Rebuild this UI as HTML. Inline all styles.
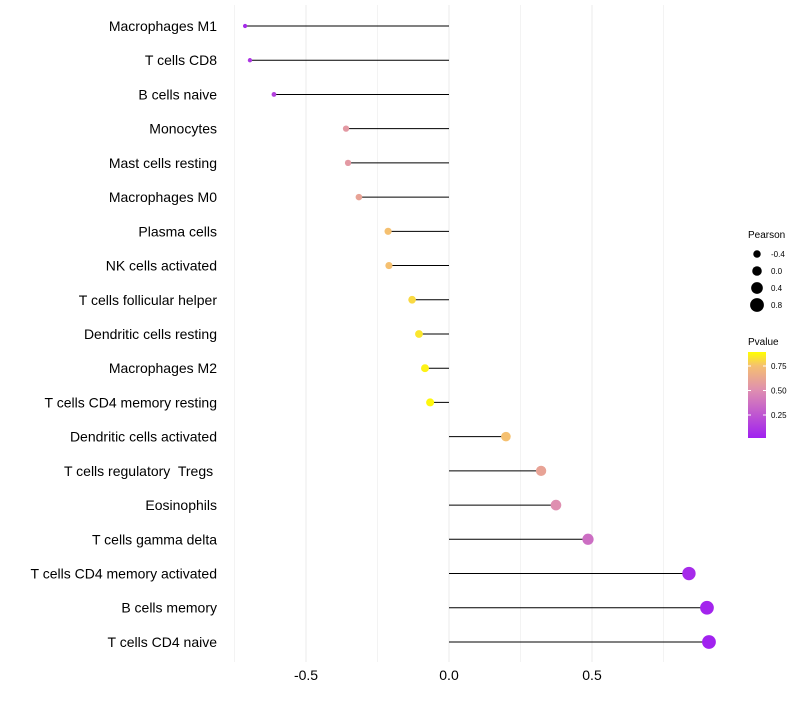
<!DOCTYPE html>
<html><head><meta charset="utf-8"><style>
body{margin:0;background:#fff;font-family:"Liberation Sans",sans-serif}
text{white-space:pre}
</style></head><body>
<svg id="chart" width="800" height="700" xmlns="http://www.w3.org/2000/svg">
<defs><linearGradient id="pg" x1="0" y1="1" x2="0" y2="0">
<stop offset="0" stop-color="#a020f0"/><stop offset="0.56" stop-color="#df8fb0"/><stop offset="0.84" stop-color="#f5c070"/><stop offset="1" stop-color="#ffff00"/></linearGradient></defs>
<g id="grid"></g><g id="marks"></g><g id="labels"></g>
<g font-size="9" fill="#000">
<text x="748" y="238" font-size="10">Pearson</text>
<g id="sizeLegend"></g>
<text x="748" y="345" font-size="10">Pvalue</text>
<rect x="748" y="352" width="18" height="86" fill="url(#pg)"/>
<g id="colorLegend"></g>
</g>
</svg>
<script>
const categories=["Macrophages M1","T cells CD8","B cells naive","Monocytes","Mast cells resting","Macrophages M0","Plasma cells","NK cells activated","T cells follicular helper","Dendritic cells resting","Macrophages M2","T cells CD4 memory resting","Dendritic cells activated","T cells regulatory  Tregs ","Eosinophils","T cells gamma delta","T cells CD4 memory activated","B cells memory","T cells CD4 naive"];
const pearson=[-0.713,-0.696,-0.612,-0.36,-0.353,-0.315,-0.213,-0.21,-0.129,-0.105,-0.084,-0.066,0.199,0.322,0.374,0.486,0.839,0.902,0.909];
const pvalues=[0.05,0.1,0.15,0.55,0.55,0.6,0.75,0.75,0.85,0.9,0.95,0.97,0.75,0.6,0.5,0.35,0.05,0.02,0.01];
const xTicks=[-0.5,0,0.5];
const xTickLabels=["-0.5","0.0","0.5"];
const sizeLegendValues=[-0.4,0.0,0.4,0.8];
const sizeLegendLabels=["-0.4","0.0","0.4","0.8"];
const colorLegendValues=[0.25,0.5,0.75];
const colorLegendLabels=["0.25","0.50","0.75"];
const NS="http://www.w3.org/2000/svg";
const x=v=>449+v*286;
const y=i=>26+i*34.22;
const r=v=>2+(v+0.75)/1.7*5;
function col(p){const stops=[[0,[160,32,240]],[0.5,[223,143,176]],[0.75,[245,192,112]],[1,[255,255,0]]];
for(let k=1;k<stops.length;k++){if(p<=stops[k][0]){const a=stops[k-1],b=stops[k],t=(p-a[0])/(b[0]-a[0]);return "rgb("+a[1].map((c,j)=>Math.round(c+(b[1][j]-c)*t)).join(",")+")";}}return "rgb(255,255,0)";}
function mk(tag,attrs,parent){const e=document.createElementNS(NS,tag);for(const k in attrs)e.setAttribute(k,attrs[k]);parent.appendChild(e);return e;}
const grid=document.getElementById('grid'),marks=document.getElementById('marks'),labels=document.getElementById('labels');
[-0.75,-0.25,0.25,0.75].forEach(v=>{const l=mk('line',{x1:x(v),x2:x(v),y1:5,y2:662,stroke:'#f3f3f3','stroke-width':1},grid);

});
xTicks.forEach((v,i)=>{const l=mk('line',{x1:x(v),x2:x(v),y1:5,y2:662,stroke:'#ebebeb','stroke-width':1},grid);


const t=mk('text',{x:x(v),y:680,'text-anchor':'middle','font-size':14,fill:'#000'},labels);t.textContent=xTickLabels[i];

});
categories.forEach((c,i)=>{const yy=y(i);
const t=mk('text',{x:217,y:yy+5,'text-anchor':'end','font-size':14,fill:'#000'},labels);t.textContent=c;


const l=mk('line',{x1:x(0),x2:x(pearson[i]),y1:yy,y2:yy,stroke:'#000','stroke-width':1},marks);


const p=mk('circle',{cx:x(pearson[i]),cy:yy,r:r(pearson[i]),fill:col(pvalues[i])},marks);

});
const sl=document.getElementById('sizeLegend');
sizeLegendValues.forEach((v,i)=>{const yy=254+i*17;
const c=mk('circle',{cx:757,cy:yy,r:r(v)*0.9+1,fill:'#000'},sl);


const t=mk('text',{x:771,y:yy+3,'font-size':8},sl);t.textContent=sizeLegendLabels[i];

});
const cl=document.getElementById('colorLegend');
colorLegendValues.forEach((v,i)=>{const yy=439.5-v*98;
const l=mk('line',{x1:748,x2:751,y1:yy,y2:yy,stroke:'#fff'},cl);


const l2=mk('line',{x1:763,x2:766,y1:yy,y2:yy,stroke:'#fff'},cl);


const t=mk('text',{x:771,y:yy+3,'font-size':8},cl);t.textContent=colorLegendLabels[i];

});
</script>
</body></html>
